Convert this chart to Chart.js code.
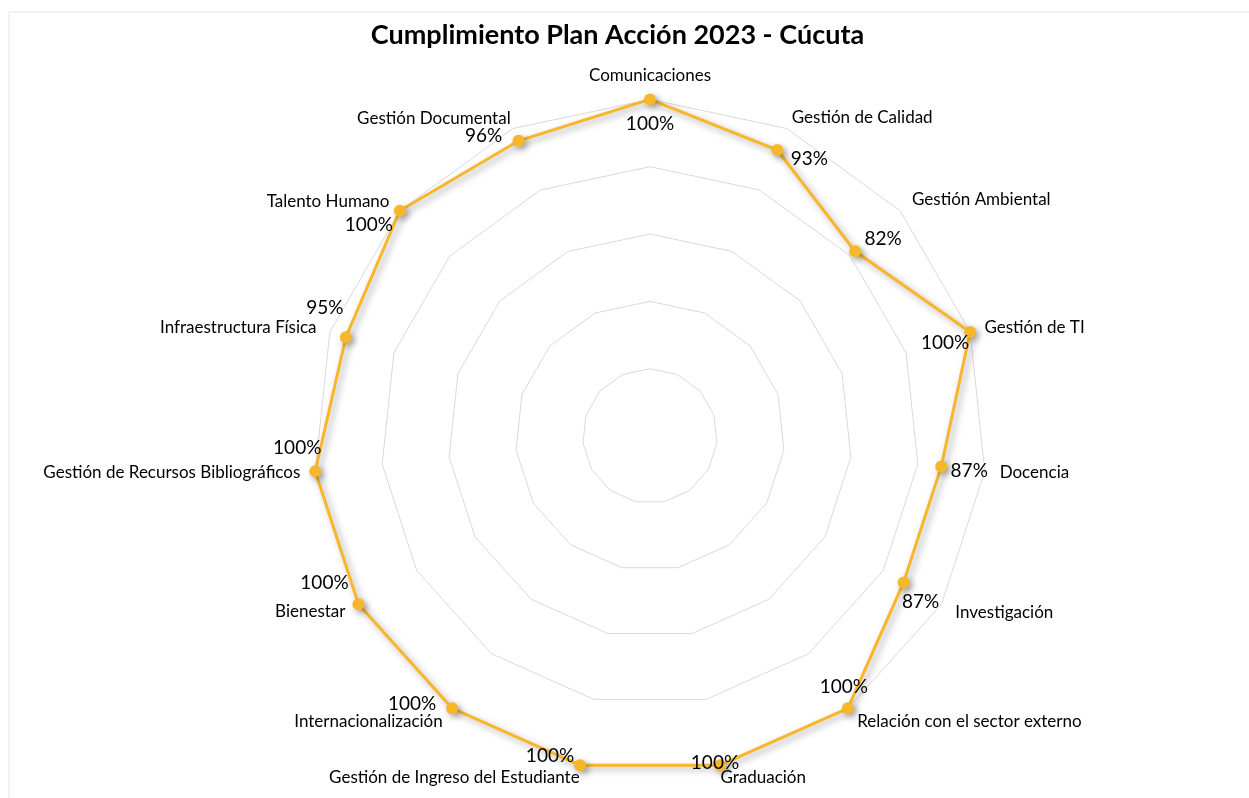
<!DOCTYPE html>
<html>
<head>
<meta charset="utf-8">
<script src="https://cdn.jsdelivr.net/npm/chart.js@4.4.1/dist/chart.umd.min.js"></script>
<style>
  html, body { margin: 0; padding: 0; background: #fff; }
  #wrap { width: 1249px; height: 798px; position: relative; }
  #frame { position: absolute; left: 8px; top: 11px; right: -4px; bottom: -4px;
           border-top: 2px solid #f1f1f1; border-left: 2px solid #f1f1f1; }
</style>
</head>
<body>
<div id="wrap"><div id="frame"></div><canvas id="graph"></canvas></div>
<script>
var areas = [
  'Comunicaciones', 'Gestión de Calidad', 'Gestión Ambiental', 'Gestión de TI',
  'Docencia', 'Investigación', 'Relación con el sector externo', 'Graduación',
  'Gestión de Ingreso del Estudiante', 'Internacionalización', 'Bienestar',
  'Gestión de Recursos Bibliográficos', 'Infraestructura Física', 'Talento Humano',
  'Gestión Documental'
];
var cumplimiento = [1.00, 0.93, 0.82, 1.00, 0.87, 0.87, 1.00, 1.00, 1.00, 1.00, 1.00, 1.00, 0.95, 1.00, 0.96];
var ringTicks = [0, 0.2, 0.4, 0.6, 0.8, 1.0];

var gold = '#F8B62B';

// where each value label sits relative to its point (Excel-like placement)
var labelOffsets = [
  [0, 24], [32, 9], [28, -12], [-25, 11], [28, 4], [17, 19], [-4, -21],
  [-5, -2], [-30, -9], [-40, -4], [-34, -21], [-18, -23], [-21, -29], [-31, 14], [-35, -5]
];
// category label spacing and box height, tuned so text sits like Excel's
var labelPadding = [14, 12, 16, 15, 15, 16, 16, 2, 2, 16, 15, 15, 14, 14, 6];
var labelLineH = [1.2, 0.02, 0.02, 0.02, 0.02, 0.02, 0.02, 1.2, 1.2, 0.02, 0.02, 0.02, 0.02, 0.02, 0.5];

var context = document.querySelector('#graph').getContext('2d');

var shadowAndLabels = {
  id: 'shadowAndLabels',
  afterLayout: function(chart) {
    // Excel centres the title on the whole sheet, not the plot
    if (chart.titleBlock) chart.titleBlock.left -= 38;
  },
  beforeDatasetsDraw: function(chart) {
    var ctx = chart.ctx;
    ctx.save();
    ctx.shadowColor = 'rgba(0,0,0,0.35)';
    ctx.shadowBlur = 7;
    ctx.shadowOffsetX = 3;
    ctx.shadowOffsetY = 3;
  },
  afterDatasetsDraw: function(chart) {
    var ctx = chart.ctx;
    ctx.restore();
    var meta = chart.getDatasetMeta(0);
    ctx.save();
    ctx.font = '19px Lato';
    ctx.fillStyle = '#000';
    ctx.textAlign = 'center';
    ctx.textBaseline = 'middle';
    meta.data.forEach(function(pt, i) {
      var v = chart.data.datasets[0].data[i];
      var off = labelOffsets[i];
      ctx.fillText(Math.round(v * 100) + '%', pt.x + off[0], pt.y + off[1]);
    });
    ctx.restore();
  }
};

var chart = new Chart(context, {
  type: 'radar',
  data: {
    labels: areas,
    datasets: [{
      data: cumplimiento,
      borderColor: gold,
      backgroundColor: gold,
      borderWidth: 3,
      pointRadius: 6,
      pointBorderWidth: 0,
      pointBackgroundColor: gold,
      pointBorderColor: gold,
      fill: false,
      tension: 0
    }]
  },
  options: {
    responsive: true,
    maintainAspectRatio: false,
    animation: false,
    layout: {
      padding: { left: 24, right: 0, top: 0, bottom: 0 }
    },
    plugins: {
      legend: { display: false },
      tooltip: { enabled: false },
      title: {
        display: true,
        text: 'Cumplimiento Plan Acción 2023 - Cúcuta',
        color: '#000',
        font: { family: 'Lato', size: 27, weight: 'bold' },
        padding: { top: 19, bottom: 4.6 }
      }
    },
    scales: {
      r: {
        min: 0,
        max: 1,
        ticks: { display: false, stepSize: ringTicks[1] },
        angleLines: { display: false },
        grid: { color: '#d9d9d9', lineWidth: 1 },
        pointLabels: {
          color: '#000',
          font: function(c) {
            return { family: 'Lato', size: 17, lineHeight: labelLineH[c.index] };
          },
          padding: function(c) { return labelPadding[c.index]; }
        }
      }
    }
  },
  plugins: [shadowAndLabels]
});
</script>
</body>
</html>
